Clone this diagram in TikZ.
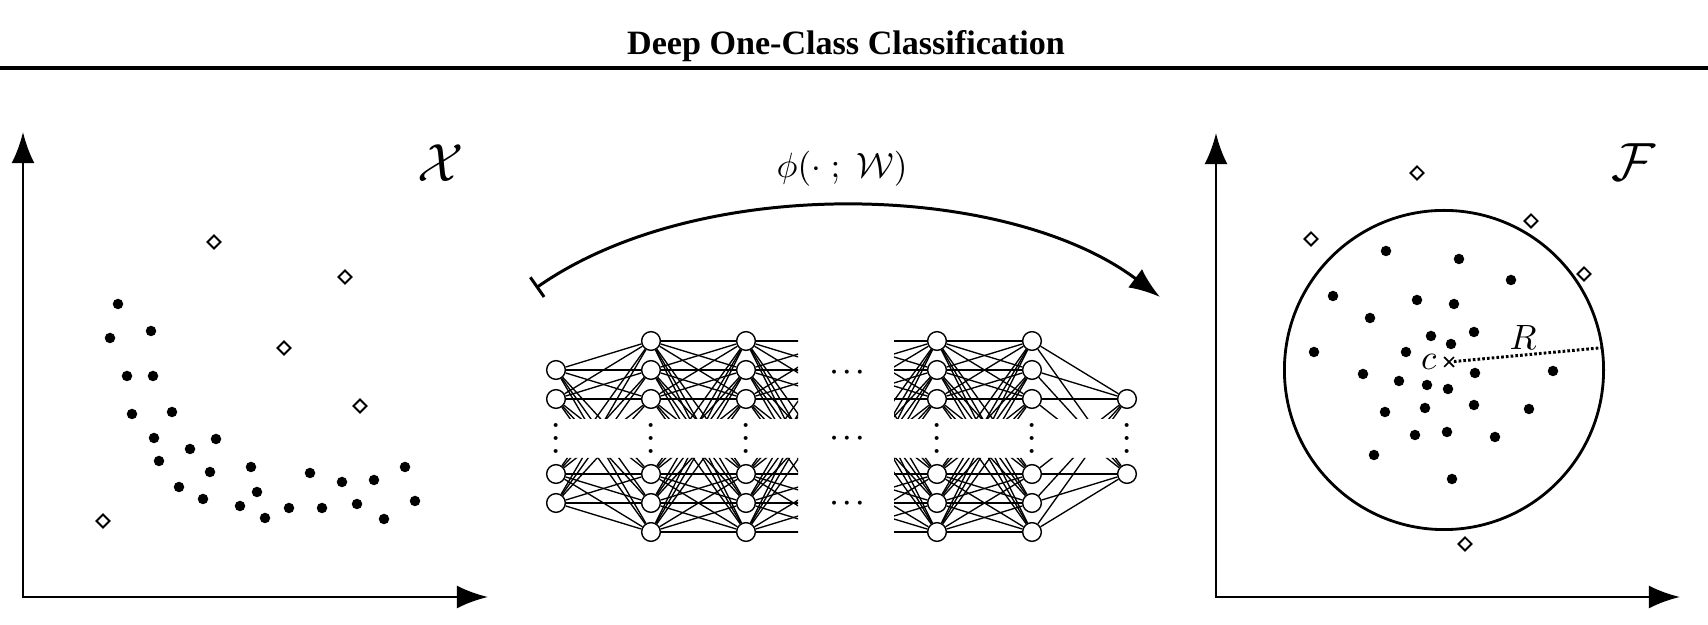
\documentclass[tikz,border=0pt]{standalone}
\usepackage{fontspec}
\newfontfamily\titlefont{Liberation Serif}
\usetikzlibrary{positioning,arrows.meta,shapes.geometric,shapes.misc}

\begin{document}
\begin{tikzpicture}[x=0.01cm, y=-0.01cm,
  axis/.style={line width=0.8pt, {Latex[length=0.31cm,width=0.23cm]}-{Latex[length=0.31cm,width=0.23cm]}},
  inlier/.style={circle, fill, inner sep=0pt, minimum size=0.105cm},
  outlier/.style={diamond, draw, line width=0.55pt, inner sep=0pt, minimum size=0.14cm},
  neuron/.style={circle, draw, fill=white, line width=0.4pt, inner sep=0pt, minimum size=0.187cm},
  edge/.style={line width=0.38pt},
  dots/.style={scale=0.72, inner sep=0pt, anchor=base, font=\boldmath},
  spacelabel/.style={scale=1.53}]
\useasboundingbox (0,0) rectangle (1708,625);

\node[font=\titlefont\bfseries\fontsize{9.7}{11}\selectfont, anchor=base] (title) at (846,55) {Deep One-Class Classification};
\draw[line width=1pt] (0,68) coordinate (rulel) -- (1708,68) coordinate (ruler);

\coordinate (xo) at (23,597);
\draw[axis] (23,132) -- (xo) -- (488,597);
\node[spacelabel] (xlab) at (441,163) {$\mathcal{X}$};
\foreach \x/\y [count=\i] in {118/304,110/338,151/331,127/376,153/376,132/414,172/412,154/438,190/449,216/439,159/461,210/472,251/467,179/487,203/499,240/506,257/492,265/518,289/508,310/473,322/508,342/482,357/504,374/480,384/519,405/467,415/501}
  \node[inlier] (xin\i) at (\x,\y) {};
\foreach \x/\y [count=\i] in {214/242,345/277,284/348,360/406,103/521}
  \node[outlier] (xout\i) at (\x,\y) {};

\coordinate (mapfrom) at (536,288);
\coordinate (mapto) at (1160,297);
\draw[line width=0.85pt, {Bar[width=0.24cm]}-{Latex[length=0.31cm,width=0.23cm]}] (mapfrom) .. controls (700,173) and (1007,182) .. (mapto);
\node (maplab) at (842,169) {$\phi(\cdot\;;\;\mathcal{W})$};

\foreach \y [count=\i] in {370,399,474,503}
  \node[neuron] (a\i) at (556,\y) {};
\foreach \n/\x in {b/651,c/746,d/937,e/1032}
  \foreach \y [count=\i] in {341,370,399,474,503,532}
    \node[neuron] (\n\i) at (\x,\y) {};
\foreach \y [count=\i] in {341,370,399,474,503,532}
  \coordinate (h\i) at (841,\y);
\foreach \y [count=\i] in {399,474}
  \node[neuron] (f\i) at (1127,\y) {};
\begin{scope}
  \clip (500,0) rectangle (1200,419) (500,458) rectangle (1200,625);
  \foreach \i in {1,...,4}
    \foreach \j in {1,...,6}
      \draw[edge] (a\i) -- (b\j);
  \foreach \i in {1,...,6}
    \foreach \j in {1,...,6} {
      \draw[edge] (b\i) -- (c\j);
      \draw[edge] (d\i) -- (e\j);
    }
  \foreach \i in {1,...,6}
    \foreach \j in {1,2}
      \draw[edge] (e\i) -- (f\j);
  \begin{scope}
    \clip (700,0) rectangle (798,625);
    \foreach \i in {1,...,6}
      \foreach \j in {1,...,6}
        \draw[edge] (c\i) -- (h\j);
  \end{scope}
  \begin{scope}
    \clip (894,0) rectangle (990,625);
    \foreach \i in {1,...,6}
      \foreach \j in {1,...,6}
        \draw[edge] (h\i) -- (d\j);
  \end{scope}
\end{scope}
\foreach \x [count=\i] in {556,651,746,937,1032,1127}
  \node[dots, rotate=90] (vd\i) at (\x+6,438.5) {$\cdots$};
\foreach \y [count=\i] in {379,445,510}
  \node[dots] (hd\i) at (847,\y) {$\cdots$};

\coordinate (fo) at (1216,597);
\draw[axis] (1216,133) -- (fo) -- (1680,597);
\node[spacelabel] (flab) at (1633,162) {$\mathcal{F}$};
\node[circle, draw, line width=0.8pt, inner sep=0pt, minimum size=3.19cm] (ball) at (1444,370) {};
\foreach \x/\y [count=\i] in {1386/251,1459/259,1511/280,1333/296,1417/300,1454/304,1370/318,1431/336,1474/332,1451/344,1314/352,1406/352,1363/374,1475/373,1553/371,1399/381,1427/385,1448/389,1385/412,1425/408,1474/405,1529/409,1415/435,1447/432,1495/437,1374/455,1452/479}
  \node[inlier] (fin\i) at (\x,\y) {};
\foreach \x/\y [count=\i] in {1417/173,1311/239,1531/221,1584/274,1465/544}
  \node[outlier] (fout\i) at (\x,\y) {};
\node[cross out, draw, line width=0.5pt, inner sep=0pt, minimum size=0.08cm] (ctr) at (1449,362) {};
\node[left=0.07cm of ctr, inner sep=0pt] (clab) {$c$};
\draw[line width=0.85pt, dash pattern=on 0.75pt off 0.6pt] (ctr) -- (ball.8.5);
\node (rlab) at (1523,337) {$R$};
\end{tikzpicture}
\end{document}
